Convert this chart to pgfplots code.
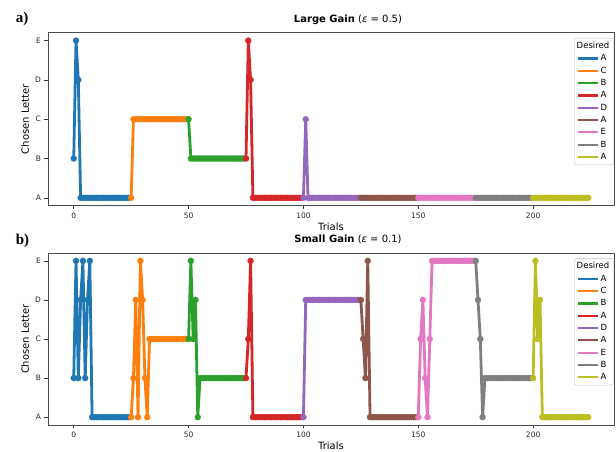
\documentclass[border=0pt]{standalone}
\usepackage{fontspec}
\setmainfont{DejaVu Sans}
\newfontfamily\seriffont{Liberation Serif}
\usepackage{pgfplots}
\pgfplotsset{compat=1.18}

\definecolor{tabblue}{HTML}{1F77B4}
\definecolor{taborange}{HTML}{FF7F0E}
\definecolor{tabgreen}{HTML}{2CA02C}
\definecolor{tabred}{HTML}{D62728}
\definecolor{tabpurple}{HTML}{9467BD}
\definecolor{tabbrown}{HTML}{8C564B}
\definecolor{tabpink}{HTML}{E377C2}
\definecolor{tabgray}{HTML}{7F7F7F}
\definecolor{tabolive}{HTML}{BCBD22}

\pgfplotsset{
  trialaxis/.style={
    scale only axis, width=566pt,
    xmin=-11.2, xmax=235.2, ymin=-0.2, ymax=4.2,
    xtick={0,50,100,150,200}, ytick={0,1,2,3,4}, yticklabels={A,B,C,D,E},
    tick align=outside, major tick length=3.5pt, xtick pos=bottom, ytick pos=left,
    tick style={black!80, line width=0.6pt},
    axis line style={black!70, line width=0.7pt},
    ticklabel style={font=\fontsize{7.5}{9}\selectfont, text=black!85},
    /pgf/number format/assume math mode=true,
    xlabel={Trials}, ylabel={Chosen Letter},
    label style={font=\fontsize{12}{14}\selectfont},
    every axis x label/.style={at={(axis description cs:0.5,-0.122)}, anchor=center},
    every axis y label/.style={at={(axis description cs:-0.0405,0.5)}, anchor=center, rotate=90},
    title style={at={(axis description cs:0.53,1.025)}, anchor=base, font=\fontsize{10}{12}\selectfont},
    clip=false,
    legend cell align=left,
    legend style={at={(0.999,0.97)}, anchor=north east, draw=black!25, rounded corners=2pt,
      font=\fontsize{8.5}{9}\selectfont, row sep=0.6pt, inner sep=2pt},
    legend image code/.code={\draw[##1, line width=2.2pt] (0pt,0pt) -- (20pt,0pt);},
    every axis plot/.append style={line width=2.8pt, mark=*, mark size=3pt, mark options={solid, line width=0.3pt}},
  },
}

\begin{document}
\begin{tikzpicture}
\path[use as bounding box] (0,0) rectangle (616pt,-452pt);

% a) large gain
\begin{axis}[trialaxis, height=173pt, at={(48pt,-32.7pt)}, anchor=north west,
  title={\textbf{Large Gain} (\textit{ε} = 0.5)}]
\addlegendimage{empty legend}\addlegendentry{\hspace{-24pt}Desired}
\addplot[tabblue] coordinates {(0,1)(1,4)(2,3)(3,0)(4,0)(5,0)(6,0)(7,0)(8,0)(9,0)(10,0)(11,0)(12,0)(13,0)(14,0)(15,0)(16,0)(17,0)(18,0)(19,0)(20,0)(21,0)(22,0)(23,0)(24,0)};
\addlegendentry{A}
\addplot[taborange] coordinates {(25,0)(26,2)(27,2)(28,2)(29,2)(30,2)(31,2)(32,2)(33,2)(34,2)(35,2)(36,2)(37,2)(38,2)(39,2)(40,2)(41,2)(42,2)(43,2)(44,2)(45,2)(46,2)(47,2)(48,2)(49,2)};
\addlegendentry{C}
\addplot[tabgreen] coordinates {(50,2)(51,1)(52,1)(53,1)(54,1)(55,1)(56,1)(57,1)(58,1)(59,1)(60,1)(61,1)(62,1)(63,1)(64,1)(65,1)(66,1)(67,1)(68,1)(69,1)(70,1)(71,1)(72,1)(73,1)(74,1)};
\addlegendentry{B}
\addplot[tabred] coordinates {(75,1)(76,4)(77,3)(78,0)(79,0)(80,0)(81,0)(82,0)(83,0)(84,0)(85,0)(86,0)(87,0)(88,0)(89,0)(90,0)(91,0)(92,0)(93,0)(94,0)(95,0)(96,0)(97,0)(98,0)(99,0)};
\addlegendentry{A}
\addplot[tabpurple] coordinates {(100,0)(101,2)(102,0)(103,0)(104,0)(105,0)(106,0)(107,0)(108,0)(109,0)(110,0)(111,0)(112,0)(113,0)(114,0)(115,0)(116,0)(117,0)(118,0)(119,0)(120,0)(121,0)(122,0)(123,0)(124,0)};
\addlegendentry{D}
\addplot[tabbrown] coordinates {(125,0)(126,0)(127,0)(128,0)(129,0)(130,0)(131,0)(132,0)(133,0)(134,0)(135,0)(136,0)(137,0)(138,0)(139,0)(140,0)(141,0)(142,0)(143,0)(144,0)(145,0)(146,0)(147,0)(148,0)(149,0)};
\addlegendentry{A}
\addplot[tabpink] coordinates {(150,0)(151,0)(152,0)(153,0)(154,0)(155,0)(156,0)(157,0)(158,0)(159,0)(160,0)(161,0)(162,0)(163,0)(164,0)(165,0)(166,0)(167,0)(168,0)(169,0)(170,0)(171,0)(172,0)(173,0)(174,0)};
\addlegendentry{E}
\addplot[tabgray] coordinates {(175,0)(176,0)(177,0)(178,0)(179,0)(180,0)(181,0)(182,0)(183,0)(184,0)(185,0)(186,0)(187,0)(188,0)(189,0)(190,0)(191,0)(192,0)(193,0)(194,0)(195,0)(196,0)(197,0)(198,0)(199,0)};
\addlegendentry{B}
\addplot[tabolive] coordinates {(200,0)(201,0)(202,0)(203,0)(204,0)(205,0)(206,0)(207,0)(208,0)(209,0)(210,0)(211,0)(212,0)(213,0)(214,0)(215,0)(216,0)(217,0)(218,0)(219,0)(220,0)(221,0)(222,0)(223,0)(224,0)};
\addlegendentry{A}
\node[font=\seriffont\bfseries\fontsize{15}{17}\selectfont, anchor=base west] at (axis description cs:-0.063,1.058) {a)};
\end{axis}

% b) small gain
\begin{axis}[trialaxis, height=172pt, at={(48pt,-253pt)}, anchor=north west,
  title={\textbf{Small Gain} (\textit{ε} = 0.1)}]
\addlegendimage{empty legend}\addlegendentry{\hspace{-24pt}Desired}
\addplot[tabblue] coordinates {(0,1)(1,4)(2,1)(3,3)(4,4)(5,1)(6,3)(7,4)(8,0)(9,0)(10,0)(11,0)(12,0)(13,0)(14,0)(15,0)(16,0)(17,0)(18,0)(19,0)(20,0)(21,0)(22,0)(23,0)(24,0)};
\addlegendentry{A}
\addplot[taborange] coordinates {(25,0)(26,1)(27,3)(28,0)(29,4)(30,3)(31,1)(32,0)(33,2)(34,2)(35,2)(36,2)(37,2)(38,2)(39,2)(40,2)(41,2)(42,2)(43,2)(44,2)(45,2)(46,2)(47,2)(48,2)(49,2)};
\addlegendentry{C}
\addplot[tabgreen] coordinates {(50,2)(51,4)(52,2)(53,3)(54,0)(55,1)(56,1)(57,1)(58,1)(59,1)(60,1)(61,1)(62,1)(63,1)(64,1)(65,1)(66,1)(67,1)(68,1)(69,1)(70,1)(71,1)(72,1)(73,1)(74,1)};
\addlegendentry{B}
\addplot[tabred] coordinates {(75,1)(76,2)(77,4)(78,0)(79,0)(80,0)(81,0)(82,0)(83,0)(84,0)(85,0)(86,0)(87,0)(88,0)(89,0)(90,0)(91,0)(92,0)(93,0)(94,0)(95,0)(96,0)(97,0)(98,0)(99,0)};
\addlegendentry{A}
\addplot[tabpurple] coordinates {(100,0)(101,3)(102,3)(103,3)(104,3)(105,3)(106,3)(107,3)(108,3)(109,3)(110,3)(111,3)(112,3)(113,3)(114,3)(115,3)(116,3)(117,3)(118,3)(119,3)(120,3)(121,3)(122,3)(123,3)(124,3)};
\addlegendentry{D}
\addplot[tabbrown] coordinates {(125,3)(126,2)(127,1)(128,4)(129,0)(130,0)(131,0)(132,0)(133,0)(134,0)(135,0)(136,0)(137,0)(138,0)(139,0)(140,0)(141,0)(142,0)(143,0)(144,0)(145,0)(146,0)(147,0)(148,0)(149,0)};
\addlegendentry{A}
\addplot[tabpink] coordinates {(150,0)(151,2)(152,3)(153,1)(154,0)(155,2)(156,4)(157,4)(158,4)(159,4)(160,4)(161,4)(162,4)(163,4)(164,4)(165,4)(166,4)(167,4)(168,4)(169,4)(170,4)(171,4)(172,4)(173,4)(174,4)};
\addlegendentry{E}
\addplot[tabgray] coordinates {(175,4)(176,3)(177,2)(178,0)(179,1)(180,1)(181,1)(182,1)(183,1)(184,1)(185,1)(186,1)(187,1)(188,1)(189,1)(190,1)(191,1)(192,1)(193,1)(194,1)(195,1)(196,1)(197,1)(198,1)(199,1)};
\addlegendentry{B}
\addplot[tabolive] coordinates {(200,1)(201,4)(202,2)(203,3)(204,0)(205,0)(206,0)(207,0)(208,0)(209,0)(210,0)(211,0)(212,0)(213,0)(214,0)(215,0)(216,0)(217,0)(218,0)(219,0)(220,0)(221,0)(222,0)(223,0)(224,0)};
\addlegendentry{A}
\node[font=\seriffont\bfseries\fontsize{15}{17}\selectfont, anchor=base west] at (axis description cs:-0.063,1.049) {b)};
\end{axis}
\end{tikzpicture}
\end{document}
